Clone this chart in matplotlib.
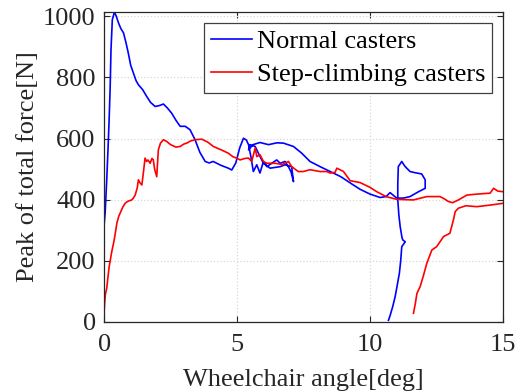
import matplotlib
matplotlib.use("Agg")
import matplotlib.pyplot as plt

plt.rcParams['font.family'] = ['Liberation Serif', 'DejaVu Serif']
plt.rcParams['font.size'] = 19

# Normal casters (blue)
normal_x = [0.0, 0.04, 0.1, 0.15, 0.19, 0.23, 0.26, 0.31, 0.39, 0.46, 0.54, 0.63, 0.73, 0.82, 0.91, 1.0,
            1.1, 1.2, 1.29, 1.45, 1.6, 1.75, 1.92, 2.08, 2.23, 2.38, 2.54, 2.7, 2.86, 3.05, 3.23, 3.42,
            3.6, 3.8, 3.95, 4.1, 4.4, 4.67, 4.8, 4.95, 5.1, 5.24, 5.35, 5.43, 5.52, 5.61, 5.74, 5.86,
            5.99, 6.12, 6.3, 6.49, 6.62, 6.8, 6.93, 7.03, 7.12, 7.05, 6.8, 6.62, 6.24, 5.99, 5.8, 5.68,
            5.49, 5.43, 5.6, 5.86, 6.18, 6.5, 6.74, 7.12, 7.43, 7.74, 8.12, 8.5, 8.9, 9.3, 9.62, 10.0,
            10.38, 10.6, 10.75, 11.0, 11.25, 11.5, 11.8, 12.07, 12.07, 11.94, 11.7, 11.5, 11.3, 11.19,
            11.06, 11.04, 11.04, 11.08, 11.13, 11.2, 11.23, 11.32, 11.19, 11.15, 11.1, 11.02, 10.94,
            10.85, 10.75, 10.69]
normal_y = [317, 356, 465, 570, 662, 771, 891, 989, 1014, 1000, 979, 960, 946, 915, 880, 840,
            815, 790, 776, 760, 738, 718, 705, 708, 713, 700, 683, 660, 640, 640, 629, 596,
            555, 525, 520, 525, 512, 503, 497, 520, 570, 601, 595, 580, 540, 492, 514, 487,
            525, 508, 519, 530, 519, 525, 508, 490, 459, 508, 514, 508, 503, 519, 552, 574,
            580, 563, 580, 587, 580, 586, 585, 574, 552, 525, 508, 492, 475, 452, 434, 418,
            407, 410, 423, 405, 405, 410, 425, 437, 465, 484, 488, 492, 510, 525,
            508, 450, 399, 350, 312, 275, 268, 262, 246, 200, 159, 120, 82,
            50, 20, 5]

# Step-climbing casters (red)
step_x = [0.0, 0.0, 0.02, 0.05, 0.1, 0.15, 0.19, 0.25, 0.29, 0.35, 0.39, 0.44, 0.48, 0.55, 0.6, 0.7,
          0.79, 0.9, 1.04, 1.1, 1.17, 1.25, 1.29, 1.35, 1.42, 1.48, 1.54, 1.6, 1.65, 1.73, 1.8, 1.85,
          1.9, 1.98, 2.04, 2.12, 2.23, 2.36, 2.5, 2.7, 2.86, 3.0, 3.11, 3.25, 3.42, 3.67, 3.9, 4.11,
          4.4, 4.67, 4.85, 4.99, 5.11, 5.3, 5.43, 5.55, 5.68, 5.74, 5.86, 5.99, 6.12, 6.43, 6.7, 6.93,
          7.05, 7.3, 7.49, 7.74, 8.12, 8.37, 8.5, 8.68, 8.75, 9.0, 9.25, 9.62, 10.0, 10.25, 10.6, 11.0,
          11.3, 11.63, 11.9, 12.13, 12.4, 12.63, 12.8, 12.94, 13.1, 13.32, 13.64, 14.0, 14.3, 14.51,
          14.64, 14.8, 15.0, 15.2, 15.2, 15.0, 14.5, 14.01, 13.6, 13.32, 13.2, 13.13, 13.0, 12.76,
          12.5, 12.32, 12.13, 12.0, 11.88, 11.76, 11.7, 11.63]
step_y = [0, 30, 61, 90, 110, 150, 180, 210, 230, 255, 273, 300, 323, 345, 355, 375,
          388, 395, 399, 405, 415, 440, 465, 455, 448, 490, 536, 525, 530, 519, 535, 530,
          500, 475, 563, 585, 596, 590, 580, 572, 574, 582, 585, 592, 596, 598, 588, 574,
          563, 552, 540, 536, 530, 535, 536, 525, 569, 541, 547, 525, 519, 519, 515, 525,
          508, 492, 492, 498, 492, 492, 487, 489, 503, 492, 462, 456, 440, 426, 410, 401,
          400, 399, 405, 410, 410, 410, 402, 394, 390, 399, 415, 418, 420, 421,
          437, 428, 426, 425, 390, 388, 382, 377, 380, 372, 361, 333, 290, 279,
          246, 235, 191, 150, 115, 93, 60, 28]

labels = ['Normal casters', 'Step-climbing casters']
xticks = [0, 5, 10, 15]
yticks = [0, 200, 400, 600, 800, 1000]

fig = plt.figure(figsize=(5.23, 3.92), dpi=100)
ax = fig.add_axes([0.199, 0.179, 0.763, 0.791])

ax.plot(normal_x, normal_y, color='#0000ff', lw=1.2, label=labels[0])
ax.plot(step_x, step_y, color='#ff0000', lw=1.2, label=labels[1])

ax.set_xlim(0, 15)
ax.set_ylim(0, 1015)
ax.set_xticks(xticks)
ax.set_yticks(yticks)
ax.grid(True, linestyle=':', color='#d8d8d8', lw=0.9)
ax.tick_params(direction='in', top=True, right=True, length=4, width=0.8,
               colors='#262626', labelsize=19)
ax.tick_params(axis='x', pad=9)
ax.tick_params(axis='y', pad=6)
for s in ax.spines.values():
    s.set_color('#262626')
    s.set_linewidth(0.9)

ax.set_xlabel('Wheelchair angle[deg]', fontsize=19, color='#262626', labelpad=9)
ax.set_ylabel('Peak of total force[N]', fontsize=19, color='#262626', labelpad=3)

leg = ax.legend(loc='upper right', bbox_to_anchor=(0.972, 0.963), borderaxespad=0,
                fancybox=False, framealpha=1, edgecolor='#404040', fontsize=19,
                handlelength=1.55, handletextpad=0.2, labelspacing=0.35, borderpad=0.25)
leg.get_frame().set_linewidth(0.9)

fig.savefig('out.png', dpi=100)
